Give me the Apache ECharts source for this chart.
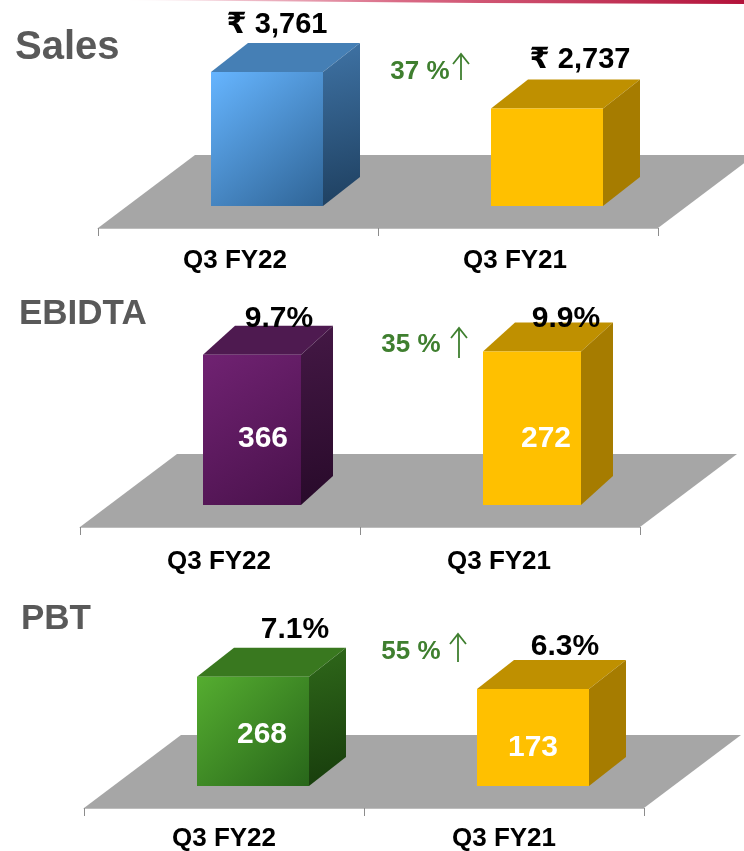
<!DOCTYPE html>
<html>

<head>
  <meta charset="utf-8">
  <title>Q3 results</title>
  <script src="https://cdnjs.cloudflare.com/ajax/libs/echarts/6.0.0/echarts.min.js"></script>
  <style>
    html, body { margin: 0; padding: 0; background: #fff; }
  </style>
</head>

<body>
  <div id="main" style="width: 744px;height:851px;"></div>
  <script type="text/javascript">
    // data
    var categories = ['Q3 FY22', 'Q3 FY21'];
    var salesValues = [3761, 2737];
    var salesLabels = ['₹ 3,761', '₹ 2,737'];
    var ebidtaValues = [366, 272];
    var ebidtaMargins = [9.7, 9.9];
    var pbtValues = [268, 173];
    var pbtMargins = [7.1, 6.3];
    var panelNames = ['Sales', 'EBIDTA', 'PBT'];
    var growthLabels = ['37 %', '35 %', '55 %'];

    var FONT = '"Liberation Sans", "DejaVu Sans", sans-serif';
    var GOLD = { front: ['#ffc000', '#ffc000'], top: '#bf9000', side: ['#a67c00', '#a67c00'] };
    var BLUE = { front: ['#66b5ff', '#2f6496'], top: '#457fb5', side: ['#3f73a5', '#1e3f5f'] };
    var PURPLE = { front: ['#702272', '#4a124c'], top: '#4e1a50', side: ['#441845', '#280a2a'] };
    var GREEN = { front: ['#55ad30', '#28661a'], top: '#39781f', side: ['#2f681a', '#173c0c'] };

    function grad(c) {
      return new echarts.graphic.LinearGradient(0, 0, 1, 1, [
        { offset: 0, color: c[0] },
        { offset: 1, color: c[1] }
      ]);
    }

    // floor parallelogram, sits on the category axis
    function renderFloor(params) {
      var g = params.coordSys;
      var b = g.y + g.height;
      return {
        type: 'polygon',
        shape: { points: [[g.x, b], [g.x + g.width, b], [g.x + g.width + 97, b - 73], [g.x + 97, b - 73]] },
        style: { fill: '#a6a6a6' }
      };
    }

    // 3d box for one category, heights come from the value axis
    function boxRenderer(p) {
      return function (params, api) {
        var i = params.dataIndex;
        var base = api.coord([api.value(0), 0]);
        var top = api.coord([api.value(0), api.value(1)]);
        var band = api.size([1, 0])[0];
        var w = band * p.barWidth;
        var x0 = base[0] + p.shift - w / 2;
        var x1 = x0 + w;
        var y0 = top[1] - 22;
        var y1 = base[1] - 22;
        var c = p.colors[i];
        var kids = [
          { type: 'polygon', shape: { points: [[x0, y0], [x1, y0], [x1 + p.dx, y0 - 29], [x0 + p.dx, y0 - 29]] }, style: { fill: c.top } },
          { type: 'polygon', shape: { points: [[x1, y0], [x1 + p.dx, y0 - 29], [x1 + p.dx, y1 - 29], [x1, y1]] }, style: { fill: grad(c.side) } },
          { type: 'rect', shape: { x: x0, y: y0, width: w, height: y1 - y0 }, style: { fill: grad(c.front) } },
          {
            type: 'text', z2: 5,
            style: { text: p.topLabels[i], x: base[0] + p.topPos[i][0], y: y0 + p.topPos[i][1], fill: '#000', font: 'bold ' + p.topSize + 'px ' + FONT, align: 'center', verticalAlign: 'middle' }
          }
        ];
        if (p.innerLabels) {
          kids.push({
            type: 'text', z2: 5,
            style: { text: String(p.innerLabels[i]), x: base[0] + p.innerPos[i][0], y: y1 + p.innerPos[i][1], fill: '#fff', font: 'bold 30px ' + FONT, align: 'center', verticalAlign: 'middle' }
          });
        }
        return { type: 'group', children: kids };
      };
    }

    var panels = [
      {
        left: 98, floorY: 228, height: 142.5, max: 4000, margin: 20, labelPad: 6, barWidth: 0.4, shift: 29, dx: 37, topSize: 29,
        values: salesValues, colors: [BLUE, GOLD], topLabels: salesLabels,
        topPos: [[39, -47], [62, -48]]
      },
      {
        left: 80, floorY: 527, height: 155, max: 10, margin: 22, labelPad: 2, barWidth: 0.35, shift: 32, dx: 32, topSize: 30,
        values: ebidtaMargins, colors: [PURPLE, GOLD], topLabels: ebidtaMargins.map(function (v) { return v + '%'; }),
        innerLabels: ebidtaValues,
        topPos: [[59, -36], [66, -33]], innerPos: [[43, -66], [46, -66]]
      },
      {
        left: 84, floorY: 808, height: 154, max: 10, margin: 18, labelPad: 0, barWidth: 0.4, shift: 29, dx: 37, topSize: 30,
        values: pbtMargins, colors: [GREEN, GOLD], topLabels: pbtMargins.map(function (v) { return v + '%'; }),
        innerLabels: pbtValues,
        topPos: [[71, -47], [61, -42]], innerPos: [[38, -51], [29, -38]]
      }
    ];

    var grids = [], xAxes = [], yAxes = [], series = [];
    panels.forEach(function (p, n) {
      grids.push({ left: p.left, width: 560, top: p.floorY - p.height, height: p.height, outerBoundsMode: 'none' });
      xAxes.push({
        type: 'category', gridIndex: n, data: categories,
        axisLine: { lineStyle: { color: '#bdbdbd', width: 1 } },
        axisTick: { show: true, length: 8, lineStyle: { color: '#8c8c8c' } },
        axisLabel: { color: '#000', fontFamily: FONT, fontWeight: 'bold', fontSize: 26, margin: p.margin, padding: [0, p.labelPad, 0, 0] }
      });
      yAxes.push({ type: 'value', gridIndex: n, min: 0, max: p.max, show: false });
      series.push({
        type: 'custom', xAxisIndex: n, yAxisIndex: n, z: 1, silent: true,
        data: [[0, 0]], renderItem: renderFloor
      });
      series.push({
        type: 'custom', xAxisIndex: n, yAxisIndex: n, z: 3, silent: true,
        data: p.values.map(function (v, i) { return [i, v]; }),
        renderItem: boxRenderer(p)
      });
    });

    var titlePos = [[15, 28], [19, 297], [21, 602]];
    var growthPos = [[420, 72, 461, 54, 80], [411, 345, 459, 328, 358], [411, 652, 458, 634, 662]];
    var GREEN_TXT = '#3f7f2f';

    var graphics = [{
      type: 'polygon',
      shape: { points: [[120, 0], [744, 0], [744, 4], [480, 3]] },
      style: {
        fill: new echarts.graphic.LinearGradient(0, 0, 1, 0, [
          { offset: 0, color: '#ffffff' },
          { offset: 0.45, color: '#d96a85' },
          { offset: 1, color: '#b3123a' }
        ])
      }
    }];
    growthLabels.forEach(function (t, n) {
      var g = growthPos[n];
      graphics.push({
        type: 'text',
        style: { text: t, x: g[0], y: g[1], fill: GREEN_TXT, font: 'bold 26px ' + FONT, align: 'center', verticalAlign: 'middle' }
      });
      graphics.push({
        type: 'polyline',
        shape: { points: [[g[2], g[4]], [g[2], g[3]]] },
        style: { stroke: GREEN_TXT, lineWidth: 1.8, fill: null }
      });
      graphics.push({
        type: 'polyline',
        shape: { points: [[g[2] - 8, g[3] + 10], [g[2], g[3]], [g[2] + 8, g[3] + 10]] },
        style: { stroke: GREEN_TXT, lineWidth: 1.8, fill: null }
      });
    });

    var myChart = echarts.init(document.getElementById('main'));
    myChart.setOption({
      animation: false,
      backgroundColor: '#fff',
      title: panelNames.map(function (t, n) {
        return {
          text: t, left: titlePos[n][0], top: titlePos[n][1], padding: 0,
          textStyle: { color: '#595959', fontFamily: FONT, fontWeight: 'bold', fontSize: n === 0 ? 40 : 35 }
        };
      }),
      grid: grids,
      xAxis: xAxes,
      yAxis: yAxes,
      series: series,
      graphic: graphics
    });
  </script>
</body>

</html>
